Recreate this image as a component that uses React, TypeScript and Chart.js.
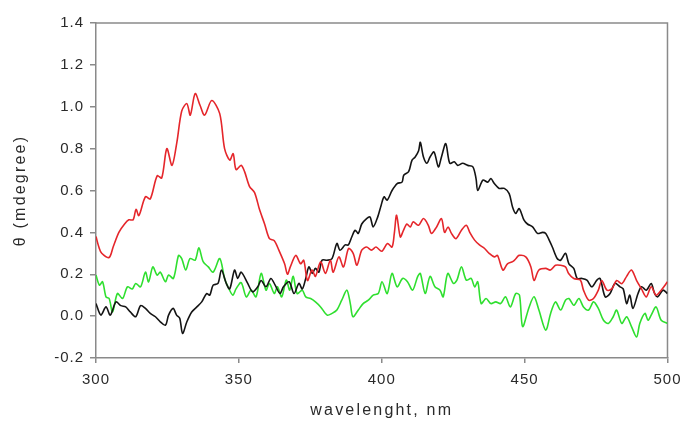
import React, { useEffect, useRef } from 'react';
import { Chart, registerables } from 'chart.js';

Chart.register(...registerables);

// ---- red trace (wavelength nm / θ mdegree) ----
const redNm = [
  300, 301, 302, 304.6, 306, 308, 310, 311.5, 313, 314,
  315, 317.3, 319, 321.4, 323, 324.8, 326.6, 328.3, 330, 331.8,
  333, 334.7, 336.4, 338, 340.5, 343.3, 345, 346.8, 348, 349,
  350.8, 352, 353.7, 355.5, 357.2, 359, 360.7, 362.4, 364, 366,
  367, 368, 369.9, 371.6, 372.7, 374, 375.6, 376.8, 378.6, 380.3,
  382, 383, 385, 386.6, 388.4, 390, 391.3, 393, 394.7, 396.4,
  398, 400, 402, 403.6, 404.4, 405.2, 406.5, 407.6, 408.8, 410,
  411, 412.9, 414.6, 416.3, 417.4, 419.2, 420.9, 422, 423.2, 424.4,
  426, 427.9, 429.6, 430.8, 432.5, 434.2, 436, 437.6, 439.4, 440.5,
  442.4, 444, 445.8, 447, 448, 450.4, 452.2, 453.3, 455, 457.4,
  459, 460.8, 462.5, 464.3, 465.4, 467.2, 469.5, 470.6, 472.4, 474.1,
  475.8, 477, 478.8, 480.5, 482.2, 484, 485.7, 487.4, 489.2, 490.9,
  492.6, 494.3, 496, 497.8, 500,
];
const redTheta = [
  0.38, 0.33, 0.30, 0.28, 0.33, 0.40, 0.44, 0.46, 0.46, 0.51,
  0.48, 0.57, 0.56, 0.67, 0.66, 0.80, 0.72, 0.83, 0.98, 1.015,
  0.96, 1.063, 1.007, 0.96, 1.03, 0.967, 0.80, 0.745, 0.776, 0.70,
  0.72, 0.69, 0.62, 0.59, 0.51, 0.44, 0.37, 0.36, 0.315, 0.25,
  0.20, 0.235, 0.29, 0.25, 0.267, 0.17, 0.22, 0.19, 0.26, 0.204,
  0.267, 0.21, 0.283, 0.235, 0.323, 0.30, 0.243, 0.315, 0.33, 0.315,
  0.33, 0.31, 0.347, 0.33, 0.395, 0.482, 0.378, 0.41, 0.44, 0.426,
  0.45, 0.434, 0.466, 0.434, 0.395, 0.426, 0.466, 0.40, 0.426, 0.395,
  0.37, 0.41, 0.434, 0.40, 0.363, 0.34, 0.323, 0.30, 0.283, 0.29,
  0.22, 0.25, 0.26, 0.275, 0.29, 0.283, 0.235, 0.17, 0.22, 0.228,
  0.22, 0.243, 0.243, 0.235, 0.204, 0.18, 0.172, 0.124, 0.076, 0.084,
  0.124, 0.17, 0.124, 0.13, 0.17, 0.155, 0.19, 0.22, 0.17, 0.13,
  0.092, 0.14, 0.10, 0.124, 0.164,
];

// ---- black trace ----
const blackNm = [
  300, 301.7, 303.5, 305, 307, 308.7, 310.4, 312, 313.9, 315.6,
  317.3, 319, 320.8, 322.5, 324.3, 325.4, 327, 328.2, 329.3, 330.3,
  331.8, 333.5, 335.3, 337, 338.7, 339.8, 341, 342.7, 343.9, 345.6,
  346.8, 348.5, 349.6, 350.8, 353.1, 354.8, 356.6, 357.8, 359.5, 361.2,
  362.7, 364.4, 365.6, 367.6, 369.3, 371, 372.2, 373.4, 374.5, 375.7,
  376.8, 378, 379.1, 380.9, 382.6, 384.3, 385.4, 387.2, 388.3, 389.5,
  390.7, 391.8, 393, 394.7, 395.9, 397, 398.6, 399.8, 400.8, 401.9,
  403.6, 405.4, 407.1, 407.7, 409.4, 410.6, 411.7, 412.9, 413.5, 414.6,
  415.8, 416.9, 418.3, 419.8, 420.9, 422.4, 423.8, 425.4, 426.6, 428.3,
  430.1, 431.9, 433, 433.6, 435.4, 437.1, 438.2, 439.4, 441.1, 442.9,
  444.6, 445.8, 446.9, 448.1, 449.8, 451, 452.8, 454.5, 456.3, 457.4,
  458.6, 459.7, 461.4, 462.6, 464.3, 465.5, 467.2, 468.4, 470.1, 471.8,
  473.5, 475.3, 476.4, 478.2, 479.9, 481.6, 483.4, 484.5, 485.7, 486.8,
  487.9, 489.7, 490.9, 492.6, 494.3, 495.5, 496.6, 498.4, 500,
];
const blackTheta = [
  0.06, 0.005, 0.044, 0.005, 0.068, 0.05, 0.044, 0.02, -0.003, 0.05,
  0.037, 0.013, -0.003, -0.027, -0.043, 0.005, 0.037, 0.005, -0.01, -0.083,
  -0.027, 0.02, 0.044, 0.068, 0.108, 0.10, 0.148, 0.156, 0.22, 0.156,
  0.13, 0.22, 0.18, 0.21, 0.156, 0.116, 0.14, 0.17, 0.14, 0.18,
  0.148, 0.108, 0.14, 0.164, 0.108, 0.156, 0.13, 0.18, 0.235, 0.204,
  0.228, 0.21, 0.267, 0.267, 0.275, 0.347, 0.315, 0.34, 0.34, 0.378,
  0.41, 0.395, 0.44, 0.466, 0.474, 0.426, 0.474, 0.53, 0.57, 0.554,
  0.60, 0.633, 0.64, 0.673, 0.69, 0.745, 0.76, 0.79, 0.83, 0.76,
  0.73, 0.76, 0.784, 0.713, 0.76, 0.824, 0.73, 0.737, 0.72, 0.73,
  0.72, 0.713, 0.657, 0.60, 0.65, 0.64, 0.657, 0.633, 0.61, 0.61,
  0.585, 0.52, 0.49, 0.514, 0.458, 0.44, 0.426, 0.395, 0.40, 0.395,
  0.363, 0.33, 0.275, 0.267, 0.30, 0.25, 0.228, 0.18, 0.18, 0.172,
  0.14, 0.172, 0.18, 0.092, 0.108, 0.156, 0.14, 0.13, 0.06, 0.10,
  0.037, 0.108, 0.14, 0.124, 0.156, 0.108, 0.092, 0.124, 0.108,
];

// ---- green trace ----
const greenNm = [
  300, 301.2, 302.3, 303.5, 304.6, 305.8, 307.5, 309.3, 311, 312.7,
  313.9, 315.6, 317.3, 318.4, 319.9, 321.4, 322.5, 324.3, 325.4, 327.1,
  328.9, 330, 331.4, 332.9, 334.7, 336, 337.5, 339.3, 341, 343.3,
  345, 346.2, 347.9, 349, 350.8, 352.6, 354.3, 356, 357.8, 359.5,
  360.7, 362.4, 363.5, 365, 366.6, 367.8, 369, 370.4, 372.2, 373.4,
  375.1, 376.8, 378.6, 380.9, 382.6, 384.3, 386, 387.8, 389, 389.9,
  391.8, 393.5, 395.3, 397, 398.8, 400.1, 401.9, 403.6, 405.4, 407.3,
  409, 410.8, 412.6, 413.5, 415.2, 416.9, 418.6, 420.4, 421.5, 423.1,
  425.1, 426.3, 427.9, 429.6, 431.3, 432.5, 433.6, 434.8, 436.5, 438.2,
  439.9, 441.6, 443.3, 445, 446.9, 448.2, 449.3, 451.6, 453.3, 455,
  457.4, 459.1, 460.8, 462.6, 464.3, 465.5, 467.2, 469, 470.6, 472.4,
  474.1, 475.8, 477.6, 479.3, 481, 482.2, 484, 485.7, 487.4, 489.2,
  490.3, 492.1, 493.2, 494.3, 496, 497.8, 500,
];
const greenTheta = [
  0.196, 0.148, 0.164, 0.092, 0.084, 0.02, 0.108, 0.084, 0.14, 0.13,
  0.156, 0.14, 0.21, 0.164, 0.235, 0.196, 0.21, 0.164, 0.196, 0.18,
  0.29, 0.275, 0.22, 0.275, 0.267, 0.326, 0.26, 0.235, 0.21, 0.275,
  0.18, 0.14, 0.10, 0.13, 0.16, 0.092, 0.124, 0.092, 0.204, 0.124,
  0.156, 0.108, 0.14, 0.092, 0.172, 0.124, 0.19, 0.108, 0.124, 0.092,
  0.084, 0.068, 0.044, 0.005, 0.013, 0.029, 0.076, 0.124, 0.06, -0.003,
  0.029, 0.06, 0.076, 0.10, 0.108, 0.164, 0.108, 0.204, 0.14, 0.18,
  0.164, 0.124, 0.19, 0.204, 0.108, 0.19, 0.14, 0.124, 0.092, 0.204,
  0.156, 0.172, 0.235, 0.172, 0.18, 0.14, 0.164, 0.06, 0.084, 0.06,
  0.068, 0.06, 0.092, 0.044, 0.108, 0.10, -0.05, 0.044, 0.092, 0.029,
  -0.067, 0.013, 0.068, 0.029, 0.076, 0.084, 0.052, 0.084, 0.044, 0.029,
  0.068, 0.037, -0.02, -0.035, -0.003, 0.029, -0.035, -0.003, -0.05, -0.1,
  -0.035, 0.013, -0.02, 0.005, 0.044, -0.02, -0.035,
];

const xTicks = [300, 350, 400, 450, 500];
const yTicks = [-0.2, 0.0, 0.2, 0.4, 0.6, 0.8, 1.0, 1.2, 1.4];

const xTitle = 'wavelenght, nm';
const yTitle = 'θ (mdegree)';

const AXIS_COLOR = '#8a8a8a';
const TEXT_COLOR = '#2a2a2a';
const FONT = 'Liberation Sans, Arial, Helvetica, sans-serif';

const toPoints = (xs: number[], ys: number[]) => xs.map((x, i) => ({ x, y: ys[i] }));

const framePlugin = {
  id: 'frameAndSpacing',
  beforeDraw(chart: any) {
    chart.ctx.letterSpacing = '2.2px';
  },
  beforeDatasetsDraw(chart: any) {
    const { ctx, chartArea: a } = chart;
    ctx.save();
    ctx.strokeStyle = AXIS_COLOR;
    ctx.lineWidth = 1.5;
    ctx.beginPath();
    ctx.moveTo(a.left, a.top);
    ctx.lineTo(a.right, a.top);
    ctx.lineTo(a.right, a.bottom);
    ctx.stroke();
    ctx.restore();
    ctx.letterSpacing = '1px';
  },
  afterDraw(chart: any) {
    chart.ctx.letterSpacing = '0px';
  },
};

const lineStyle = {
  borderWidth: 1.6,
  pointRadius: 0,
  tension: 0.3,
  fill: false,
};

export default function App() {
  const canvasRef = useRef<HTMLCanvasElement | null>(null);

  useEffect(() => {
    if (!canvasRef.current) return;
    const chart = new Chart(canvasRef.current, {
      type: 'line',
      data: {
        datasets: [
          { label: 'red', data: toPoints(redNm, redTheta), borderColor: '#e5262b', ...lineStyle },
          { label: 'black', data: toPoints(blackNm, blackTheta), borderColor: '#141414', ...lineStyle },
          { label: 'green', data: toPoints(greenNm, greenTheta), borderColor: '#2fdf2f', ...lineStyle },
        ],
      },
      options: {
        responsive: false,
        animation: false,
        devicePixelRatio: 1,
        layout: { padding: { left: 0, right: 15, top: 23, bottom: 0 } },
        plugins: {
          legend: { display: false },
          tooltip: { enabled: false },
        },
        scales: {
          x: {
            type: 'linear',
            min: 300,
            max: 500,
            afterBuildTicks: (s: any) => {
              s.ticks = xTicks.map((v) => ({ value: v }));
            },
            afterFit: (s: any) => {
              s.height = 64;
            },
            grid: {
              display: true,
              drawOnChartArea: false,
              drawTicks: true,
              tickLength: 5,
              color: AXIS_COLOR,
              lineWidth: 1.5,
            },
            border: { display: true, color: AXIS_COLOR, width: 1.5 },
            ticks: {
              z: 1,
              padding: 8,
              color: TEXT_COLOR,
              font: { family: FONT, size: 15 },
              maxRotation: 0,
              callback: (v: any) => String(v),
            },
            title: {
              display: true,
              text: xTitle,
              color: TEXT_COLOR,
              font: { family: FONT, size: 16 },
              padding: { top: 0, bottom: 2 },
            },
          },
          y: {
            type: 'linear',
            min: -0.2,
            max: 1.4,
            afterBuildTicks: (s: any) => {
              s.ticks = yTicks.map((v) => ({ value: v }));
            },
            afterFit: (s: any) => {
              s.width = 96;
            },
            grid: {
              display: true,
              drawOnChartArea: false,
              drawTicks: true,
              tickLength: 6,
              color: AXIS_COLOR,
              lineWidth: 1.5,
            },
            border: { display: true, color: AXIS_COLOR, width: 1.5 },
            ticks: {
              z: 1,
              padding: 6,
              color: TEXT_COLOR,
              font: { family: FONT, size: 15 },
              callback: (v: any) => Number(v).toFixed(1),
            },
            title: {
              display: true,
              text: yTitle,
              color: TEXT_COLOR,
              font: { family: FONT, size: 16 },
              padding: { top: 11, bottom: 0 },
            },
          },
        },
      },
      plugins: [framePlugin],
    } as any);
    return () => chart.destroy();
  }, []);

  return (
    <div style={{ position: 'absolute', left: 0, top: 0, width: 688, height: 422, background: '#fff' }}>
      <canvas ref={canvasRef} width={688} height={422} style={{ display: 'block', width: 688, height: 422 }} />
    </div>
  );
}
